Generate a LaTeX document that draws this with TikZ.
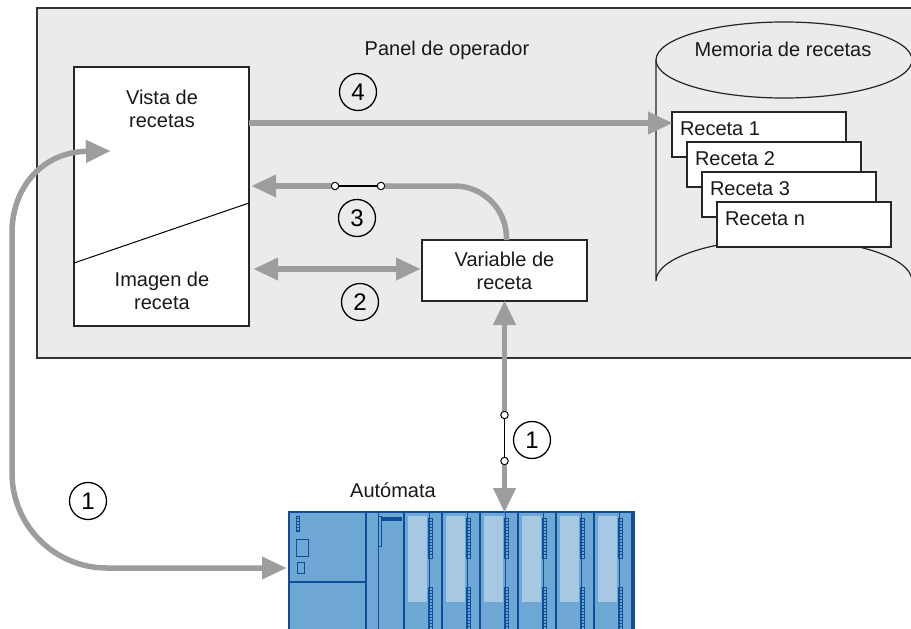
\documentclass[tikz,border=0pt]{standalone}
\usepackage{fontspec}
\setmainfont{Liberation Sans}
\usetikzlibrary{arrows.meta,calc}

\definecolor{panelbg}{HTML}{EBEBEE}
\definecolor{flow}{HTML}{9D9D9D}
\definecolor{plcfill}{HTML}{6FA7D4}
\definecolor{plcdark}{HTML}{0E4E9B}
\definecolor{plclight}{HTML}{A6C8E2}

\begin{document}
\begin{tikzpicture}[x=1pt,y=-1pt,
  every node/.style={inner sep=0pt, outer sep=0pt},
  txt/.style={font=\fontsize{20}{23}\selectfont, text=black!90, align=center},
  whitebox/.style={draw=black!85, line width=1.2pt, fill=white, anchor=north west},
  recipe/.style={whitebox, minimum width=174pt, minimum height=45pt},
  flowline/.style={draw=flow, line width=5.5pt},
  headtip/.style={-{Triangle[length=24pt,width=23pt,line width=0.1pt]}},
  bothtips/.style={{Triangle[length=24pt,width=23pt,line width=0.1pt]}-{Triangle[length=24pt,width=23pt,line width=0.1pt]}},
  numc/.style={circle, draw=black, line width=1.3pt, minimum size=37pt, font=\fontsize{24}{24}\selectfont},
  contact/.style={circle, draw=black, fill=white, line width=1pt, minimum size=7.5pt},
  wire/.style={draw=black, line width=1.1pt},
  plcline/.style={draw=plcdark, line width=2.4pt},
  plcthin/.style={draw=plcdark, line width=0.9pt}
]
\useasboundingbox (0,0) rectangle (911,629);

% operator panel
\node[draw=black!80, line width=1.2pt, fill=panelbg, anchor=north west,
      minimum width=890pt, minimum height=350pt] (panel) at (37,8) {};
\node[txt, anchor=base] (paneltitle) at (447,55) {Panel de operador};

% recipe view / recipe screen
\node[whitebox, minimum width=175pt, minimum height=259pt] (vista) at (74,67) {};
\draw[line width=1pt] ($(vista.south west)+(0,-63)$) -- ($(vista.south east)+(0,-123)$);
\node[txt] (vistalbl) at (162,109) {Vista de\\recetas};
\node[txt] (imagenlbl) at (162,291) {Imagen de\\receta};

% recipe variable
\node[draw=black!85, line width=1.2pt, fill=white, minimum width=165pt, minimum height=61pt,
      txt] (varbox) at (504.5,270.5) {Variable de\\receta};

% recipe memory (cylinder)
\draw[line width=1.2pt, draw=black!85]
  (656,60) -- (656,281) arc[start angle=180, end angle=360, x radius=128, y radius=42]
  -- (912,60);
\draw[line width=1.2pt, draw=black!85] (784,60) ellipse [x radius=128, y radius=38];
\node[txt, anchor=base] (memlbl) at (783,56) {Memoria de recetas};

\foreach \n/\x/\y/\t in {r1/672/112/Receta 1, r2/687/142/Receta 2, r3/702/172/Receta 3, rn/717/202/Receta n}{
  \node[recipe] (\n) at (\x,\y) {};
  \node[txt, anchor=base west] (\n lbl) at ($(\n.north west)+(8,23)$) {\t};
}

% PLC
\node[fill=plcfill, draw=plcdark, line width=2.4pt, anchor=north west,
      minimum width=345pt, minimum height=130pt] (plc) at (289,512) {};
\node[txt, anchor=base] (plclbl) at (393,497) {Autómata};
\begin{scope}
  \clip (289,512) rectangle (640,629);
  % power supply / CPU block
  \draw[plcline] (289,582) -- (366,582);
  \draw[plcline] (366,512) -- (366,640);
  \draw[plcthin] (296,539) rectangle (308,556);
  \draw[plcthin] (297,562) rectangle (304,573);
  \draw[plcthin] (296,516) rectangle (299,531);
  \foreach \yy in {518,521,...,530} \draw[plcdark, line width=0.5pt] (296,\yy) -- (299,\yy);
  % interface module
  \draw[plcthin] (378,512) -- (378,640);
  \fill[plcdark] (382,517) rectangle (402,521);
  \draw[plcthin] (378,516) rectangle (381,546);
  % signal modules
  \foreach \mx in {404,442,480,518,556,594}{
    \draw[plcline] (\mx,512) -- (\mx,640);
    \fill[plclight] (\mx+4,516) rectangle (\mx+23,602);
    \draw[plcthin] (\mx+25,512) -- (\mx+25,640);
    \draw[plcdark, line width=0.6pt] (\mx+24,518) rectangle (\mx+28,558);
    \draw[plcdark, line width=0.6pt] (\mx+24,587) rectangle (\mx+28,632);
    \foreach \yy in {521,524,...,556} \draw[plcdark, line width=0.4pt] (\mx+24,\yy) -- (\mx+28,\yy);
    \foreach \yy in {590,593,...,629} \draw[plcdark, line width=0.4pt] (\mx+24,\yy) -- (\mx+28,\yy);
  }
  \draw[plcline] (632,512) -- (632,640);
\end{scope}

% (4) recipe view -> recipe memory
\coordinate (r1in) at ($(r1.north west)+(0,11)$);
\draw[flowline, headtip] (vista.east |- r1in) -- (r1in);
\node[numc] (n4) at (358,92) {4};

% (3) recipe variable -> recipe view, via switch
\node[contact] (s3a) at (335,186) {};
\node[contact] (s3b) at (381,186) {};
\draw[flowline, rounded corners=52pt] ([xshift=2pt]varbox.north) |- (s3b);
\draw[flowline, headtip, shorten >=3pt] (s3a) -- (vista.east |- s3a);
\draw[wire] (s3a) -- (s3b);
\node[numc] (n3) at (357,218) {3};

% (2) recipe screen <-> recipe variable
\coordinate (a2) at (0,269);
\draw[flowline, bothtips, shorten <=5pt, shorten >=2pt] (vista.east |- a2) -- (varbox.west |- a2);
\node[numc] (n2) at (360,302) {2};

% (1) recipe variable <-> PLC, via switch
\node[contact] (s1a) at (504.5,415) {};
\node[contact] (s1b) at (504.5,461) {};
\draw[flowline, headtip] (s1a) -- (varbox.south);
\draw[flowline, headtip] (s1b) -- (varbox.south |- plc.north);
\draw[wire] (s1a) -- (s1b);
\node[numc] (n1b) at (532,440) {1};

% (1) recipe view <-> PLC
\coordinate (vistain) at (110,151);
\coordinate (plcin) at ($(plc.north west)+(-3,56)$);
\draw[flowline, bothtips]
  (vistain) .. controls (45,152) and (12,185) .. (12,233)
  -- (12,473) .. controls (12,525.5) and (54.5,568) .. (107,568)
  -- (plcin);
\node[numc] (n1a) at (88,501) {1};

\end{tikzpicture}
\end{document}
